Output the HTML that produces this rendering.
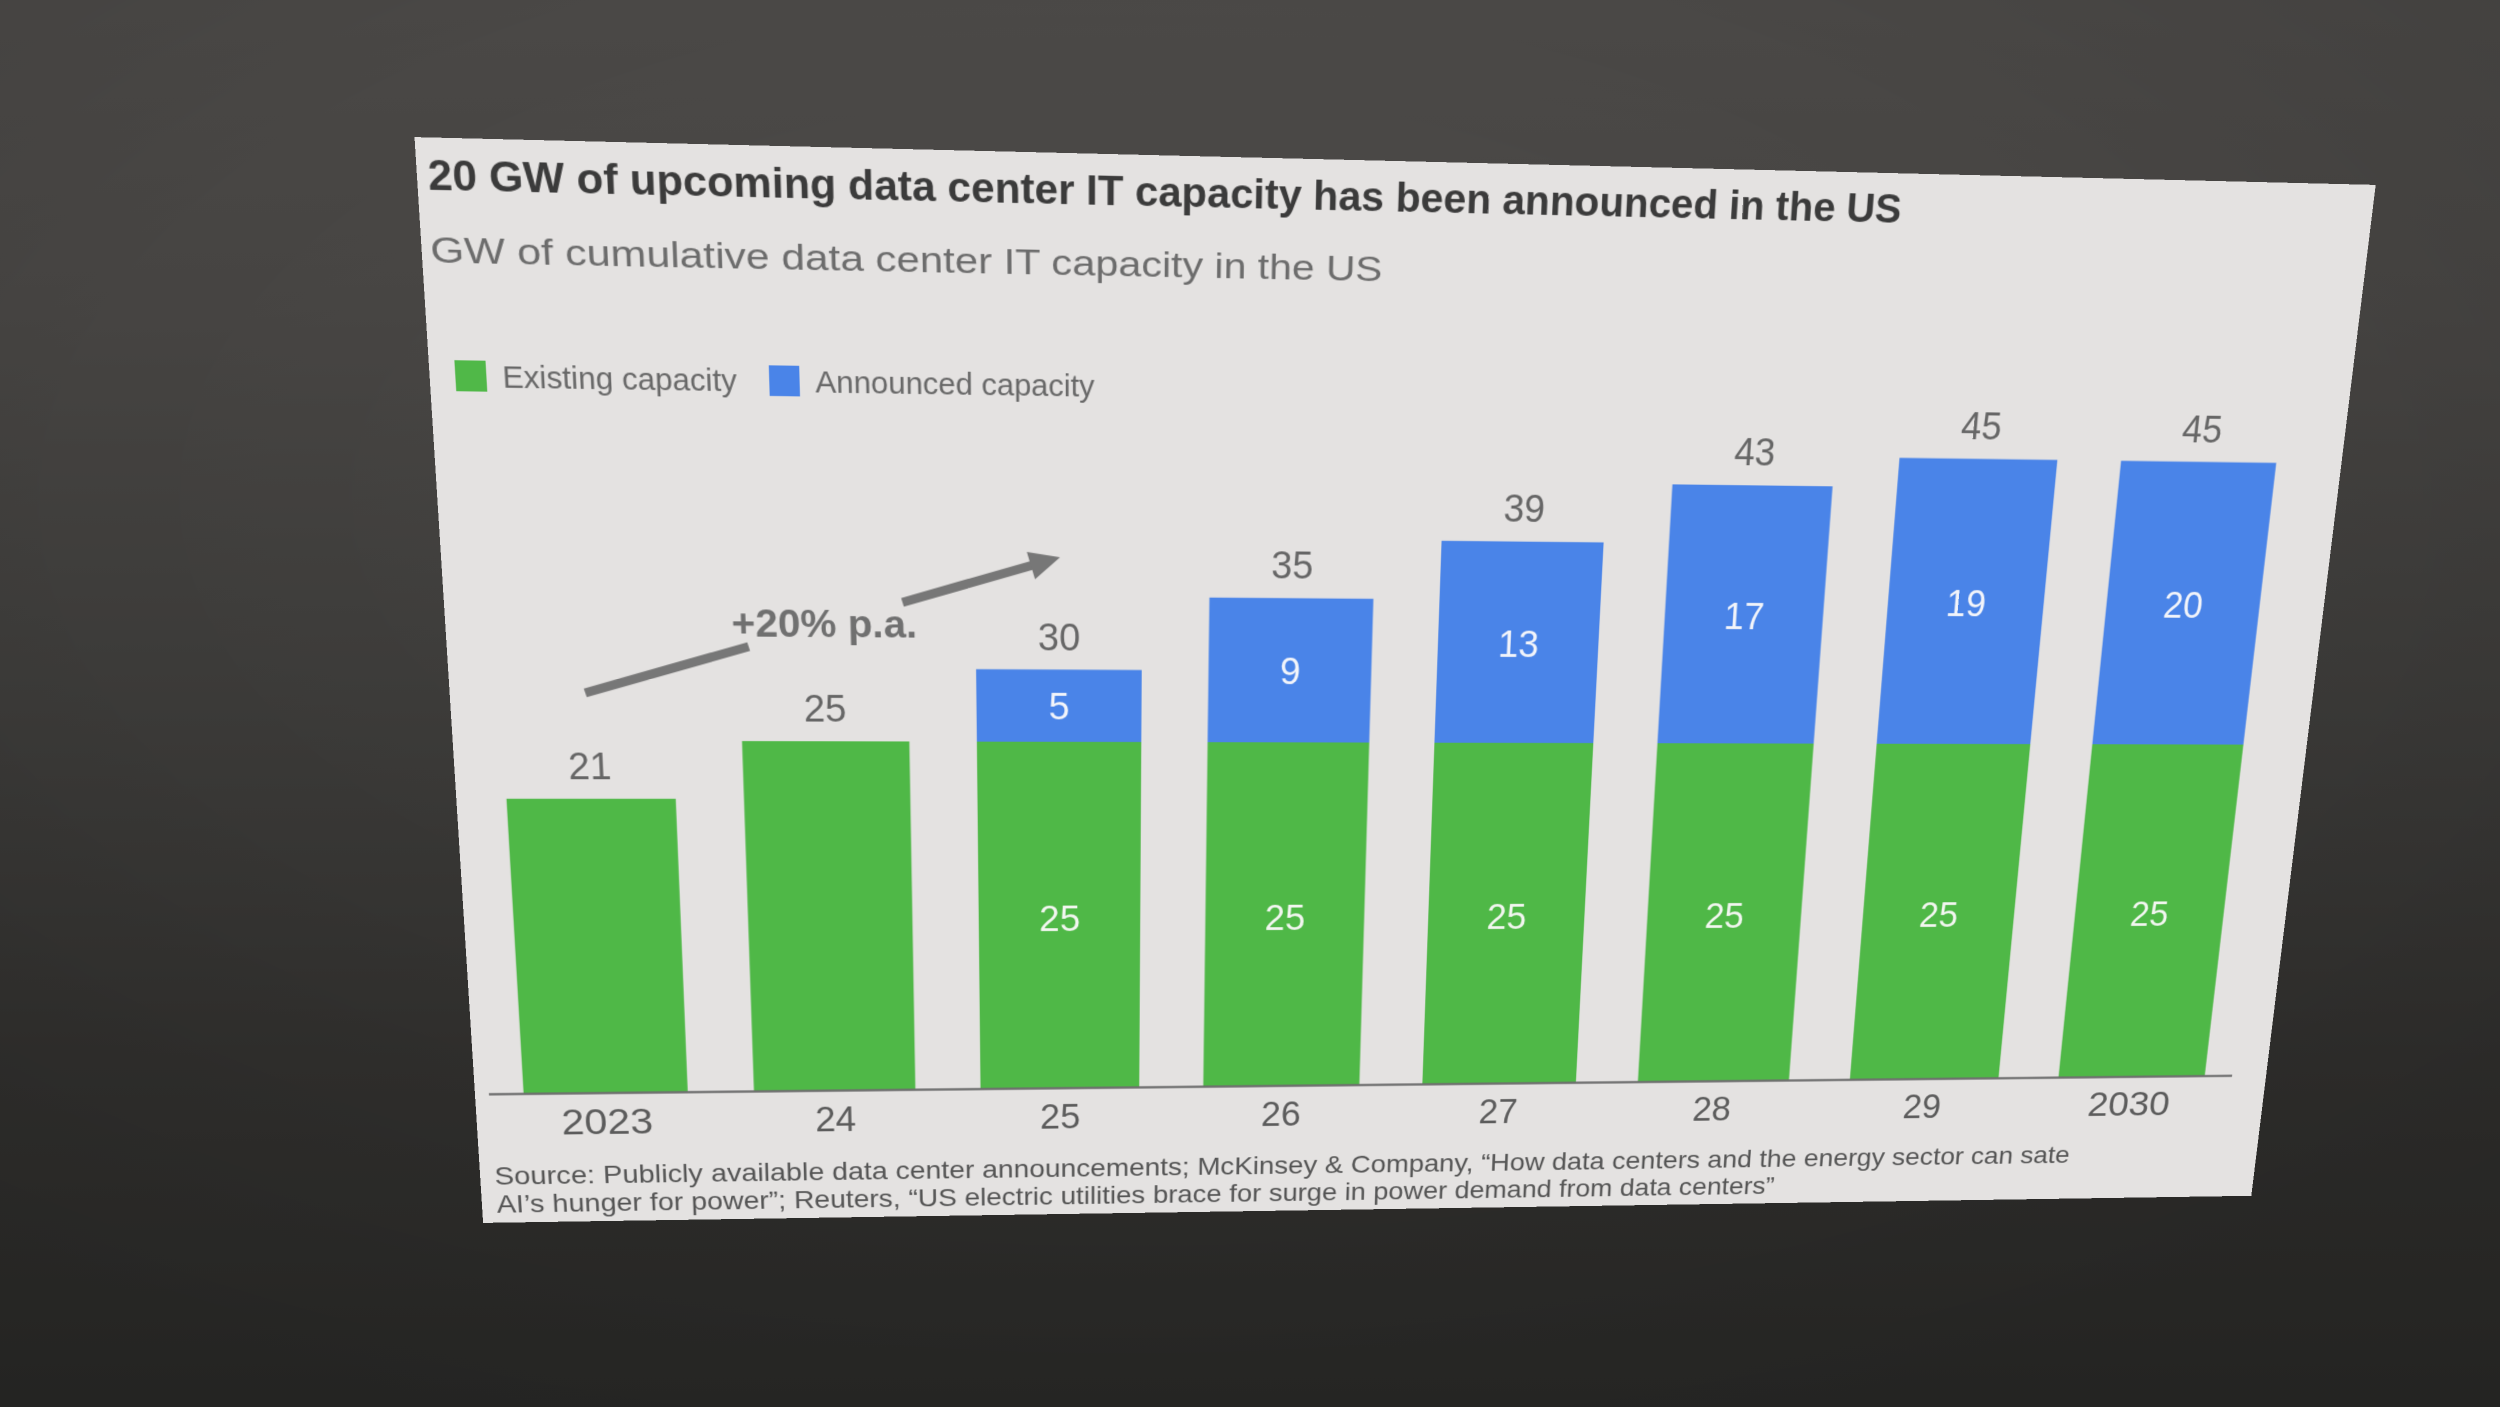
<!DOCTYPE html>
<html>
<head>
<meta charset="utf-8">
<style>
  html, body { margin:0; padding:0; }
  body {
    width:2500px; height:1407px; overflow:hidden; position:relative;
    background: linear-gradient(to bottom, #4a4846 0%, #464442 22%, #3b3a38 50%, #302f2d 75%, #292927 100%);
    font-family: "Liberation Sans", "DejaVu Sans", sans-serif;
  }
  #vig {
    position:absolute; left:0; top:0; width:2500px; height:1407px;
    background: radial-gradient(ellipse 75% 70% at 45% 35%, rgba(255,255,255,0.03) 0%, rgba(0,0,0,0) 55%, rgba(0,0,0,0.12) 100%);
  }
  #screen {
    position:absolute; left:0; top:0; width:1920px; height:1080px;
    transform-origin: 0 0;
    transform: matrix3d(1.116938, 0.0323281, 0, 0.0000401896,
                        0.1147685, 1.1351111, 0, 0.0001060917,
                        0, 0, 1, 0,
                        414.5, 137.1, 0, 1);
    background:#e4e2e1;
  }
  svg text { font-family: "Liberation Sans", "DejaVu Sans", sans-serif; }
</style>
</head>
<body>
<div id="vig"></div>
<div id="screen">
<svg width="1920" height="1080" viewBox="0 0 1920 1080" style="display:block">
  <rect x="0" y="0" width="1920" height="1080" fill="#e4e2e1"/>

  <!-- Title -->
  <text x="10" y="47" font-size="38" font-weight="bold" fill="#3b3b3b" textLength="1422" lengthAdjust="spacingAndGlyphs">20 GW of upcoming data center IT capacity has been announced in the US</text>
  <text x="8" y="113" font-size="34" fill="#6c6c6c" textLength="907" lengthAdjust="spacingAndGlyphs">GW of cumulative data center IT capacity in the US</text>

  <!-- Legend -->
  <rect x="24" y="203" width="29" height="29" fill="#50b848"/>
  <text x="68" y="228" font-size="30" fill="#686868" textLength="221" lengthAdjust="spacingAndGlyphs">Existing capacity</text>
  <rect x="320" y="203" width="29" height="29" fill="#4a84e8"/>
  <text x="364" y="228" font-size="30" fill="#686868" textLength="270" lengthAdjust="spacingAndGlyphs">Announced capacity</text>

  <!-- Growth arrow -->
  <g stroke="#777777" stroke-width="9" stroke-linecap="butt" fill="none">
    <line x1="131" y1="523" x2="292" y2="476"/>
    <line x1="444" y1="431" x2="573" y2="393"/>
  </g>
  <polygon points="600,385 575.2,406.9 567.2,380.1" fill="#777777"/>
  <text x="276" y="465.6" font-size="38" font-weight="bold" fill="#707070" textLength="182" lengthAdjust="spacingAndGlyphs">+20% p.a.</text>

  <!-- Bars -->
  <g>
    <!-- 2023 -->
    <rect x="48.8" y="629.9" width="166" height="309.1" fill="#4fb847"/>
    <!-- 24 -->
    <rect x="282.36" y="571" width="166" height="368" fill="#4fb847"/>
    <!-- 25 -->
    <rect x="515.92" y="497.4" width="166" height="73.6" fill="#4a84e8"/>
    <rect x="515.92" y="571" width="166" height="368" fill="#4fb847"/>
    <!-- 26 -->
    <rect x="749.48" y="423.8" width="166" height="147.2" fill="#4a84e8"/>
    <rect x="749.48" y="571" width="166" height="368" fill="#4fb847"/>
    <!-- 27 -->
    <rect x="983.04" y="364.9" width="166" height="206.1" fill="#4a84e8"/>
    <rect x="983.04" y="571" width="166" height="368" fill="#4fb847"/>
    <!-- 28 -->
    <rect x="1216.6" y="306" width="166" height="265" fill="#4a84e8"/>
    <rect x="1216.6" y="571" width="166" height="368" fill="#4fb847"/>
    <!-- 29 -->
    <rect x="1450.16" y="276.6" width="166" height="294.4" fill="#4a84e8"/>
    <rect x="1450.16" y="571" width="166" height="368" fill="#4fb847"/>
    <!-- 2030 -->
    <rect x="1683.72" y="276.6" width="166" height="294.4" fill="#4a84e8"/>
    <rect x="1683.72" y="571" width="166" height="368" fill="#4fb847"/>
  </g>

  <!-- Axis -->
  <line x1="14" y1="939.5" x2="1881" y2="939.5" stroke="#6e6e6e" stroke-width="2.5"/>

  <!-- Total labels -->
  <g font-size="38" fill="#666666" text-anchor="middle">
    <text x="131.8" y="610.4">21</text>
    <text x="365.36" y="551.5">25</text>
    <text x="598.92" y="477.9">30</text>
    <text x="832.48" y="404.3">35</text>
    <text x="1066.04" y="345.4">39</text>
    <text x="1299.6" y="286.5">43</text>
    <text x="1533.16" y="257.1">45</text>
    <text x="1766.72" y="257.1">45</text>
  </g>

  <!-- Inside labels (announced) -->
  <g font-size="38" fill="#f2f4fa" text-anchor="middle">
    <text x="598.92" y="547.8">5</text>
    <text x="832.48" y="511">9</text>
    <text x="1066.04" y="481.6">13</text>
    <text x="1299.6" y="452.1">17</text>
    <text x="1533.16" y="437.4">19</text>
    <text x="1766.72" y="437.4">20</text>
  </g>
  <!-- Inside labels (existing) -->
  <g font-size="38" fill="#f2f6f0" text-anchor="middle">
    <text x="598.92" y="768.6">25</text>
    <text x="832.48" y="768.6">25</text>
    <text x="1066.04" y="768.6">25</text>
    <text x="1299.6" y="768.6">25</text>
    <text x="1533.16" y="768.6">25</text>
    <text x="1766.72" y="768.6">25</text>
  </g>

  <!-- X labels -->
  <g font-size="38" fill="#5c5c5c" text-anchor="middle">
    <text x="131.8" y="984" textLength="93" lengthAdjust="spacingAndGlyphs">2023</text>
    <text x="365.36" y="984">24</text>
    <text x="598.92" y="984">25</text>
    <text x="832.48" y="984">26</text>
    <text x="1066.04" y="984">27</text>
    <text x="1299.6" y="984">28</text>
    <text x="1533.16" y="984">29</text>
    <text x="1766.72" y="984" textLength="93" lengthAdjust="spacingAndGlyphs">2030</text>
  </g>

  <!-- Source -->
  <text x="14.5" y="1038" font-size="27" fill="#555555" textLength="1691" lengthAdjust="spacingAndGlyphs">Source: Publicly available data center announcements; McKinsey &amp; Company, “How data centers and the energy sector can sate</text>
  <text x="15" y="1069" font-size="27" fill="#555555" textLength="1360" lengthAdjust="spacingAndGlyphs">AI’s hunger for power”; Reuters, “US electric utilities brace for surge in power demand from data centers”</text>
</svg>
</div>
</body>
</html>
